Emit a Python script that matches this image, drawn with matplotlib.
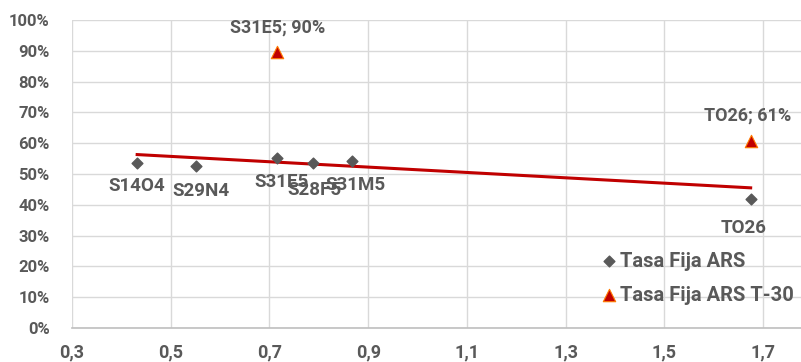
import matplotlib.pyplot as plt
from matplotlib.ticker import FuncFormatter

# Tasa Fija ARS
fija_names = ["S14O4", "S29N4", "S31E5", "S28F5", "S31M5", "TO26"]
fija_x = [0.432, 0.551, 0.716, 0.789, 0.868, 1.675]
fija_y = [0.537, 0.527, 0.552, 0.535, 0.541, 0.420]

# Tasa Fija ARS T-30
t30_names = ["S31E5", "TO26"]
t30_x = [0.716, 1.675]
t30_y = [0.895, 0.608]
t30_text = ["S31E5; 90%", "TO26; 61%"]

# trend line (as drawn)
trend_x = [0.432, 1.675]
trend_y = [0.563, 0.455]

plt.rcParams['font.family'] = ['Roboto', 'DejaVu Sans']
grey = '#595959'

fig = plt.figure(figsize=(8.01, 3.62), dpi=100)
ax = fig.add_axes([0.0899, 0.0939, 0.9101, 0.851])

ax.set_xlim(0.3, 1.777)
ax.set_ylim(0, 1.0)
ax.set_xticks([0.3, 0.5, 0.7, 0.9, 1.1, 1.3, 1.5, 1.7])
ax.set_yticks([i / 10 for i in range(11)])
ax.xaxis.set_major_formatter(FuncFormatter(lambda v, p: f"{v:.1f}".replace('.', ',')))
ax.yaxis.set_major_formatter(FuncFormatter(lambda v, p: f"{v*100:.0f}%"))
ax.grid(True, color='#d9d9d9', linewidth=1)
ax.set_axisbelow(True)
for s in ['top', 'right', 'left']:
    ax.spines[s].set_visible(False)
ax.spines['bottom'].set_color('#bfbfbf')
ax.spines['bottom'].set_linewidth(1.2)
ax.tick_params(length=0, labelsize=12, labelcolor=grey)
ax.tick_params(axis='x', labelsize=13, pad=11)
ax.tick_params(axis='y', pad=16)
for lab in ax.get_xticklabels() + ax.get_yticklabels():
    lab.set_fontweight('bold')

ax.plot(trend_x, trend_y, color='#c00000', linewidth=2.2, zorder=2)
ax.scatter(fija_x, fija_y, marker='D', s=30, color=grey, zorder=3, label='Tasa Fija ARS')
ax.scatter(t30_x, t30_y, marker='^', s=80, color='#c00000', edgecolor='#ff7a00',
           linewidth=0.8, zorder=3, label='Tasa Fija ARS T-30')

# point labels (offsets in points)
fija_off = [(0, -17), (4, -18), (3, -17), (1, -19), (2, -17), (-5, -21)]
for n, x, y, off in zip(fija_names, fija_x, fija_y, fija_off):
    ax.annotate(n, (x, y), xytext=off, textcoords='offset points', ha='center',
                va='center', fontsize=13.5, fontweight='bold', color=grey)
t30_off = [(0, 18), (-2, 18)]
for t, x, y, off in zip(t30_text, t30_x, t30_y, t30_off):
    ax.annotate(t, (x, y), xytext=off, textcoords='offset points', ha='center',
                va='center', fontsize=13, fontweight='bold', color=grey)

leg = ax.legend(loc='lower right', bbox_to_anchor=(1.01, 0.03), frameon=False,
                fontsize=14.5, labelspacing=0.75, handletextpad=0.1, borderpad=0.2,
                handlelength=0.9)
for t in leg.get_texts():
    t.set_color(grey)
    t.set_fontweight('bold')

fig.savefig('out.png', dpi=100)
